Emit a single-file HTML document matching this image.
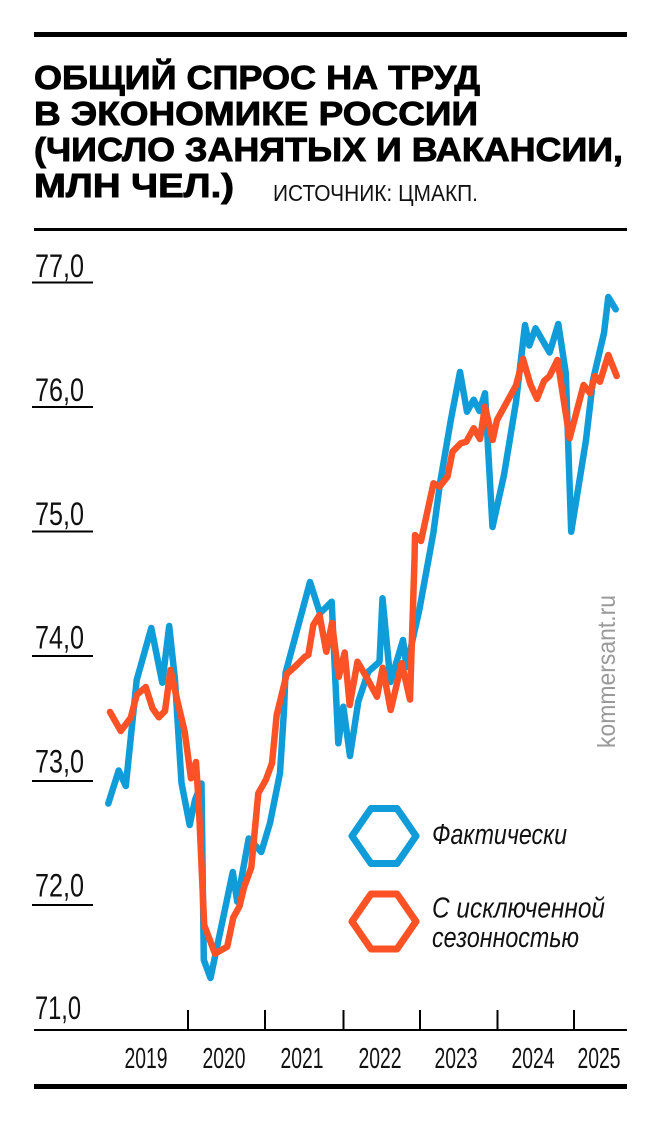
<!DOCTYPE html>
<html>
<head>
<meta charset="utf-8">
<style>
  html, body { margin: 0; padding: 0; background: #ffffff; }
  body { width: 660px; height: 1122px; overflow: hidden; }
  svg { display: block; }
  .title { font-family: "Liberation Sans", "DejaVu Sans", sans-serif; font-weight: bold; font-size: 33px; fill: #000; stroke: #000; stroke-width: 0.9px; }
  .src { font-family: "Liberation Sans Narrow", "Liberation Sans", sans-serif; font-size: 23px; fill: #111; }
  .ylab { font-family: "Liberation Sans Narrow", "Liberation Sans", sans-serif; font-size: 32px; fill: #111; }
  .xlab { font-family: "Liberation Sans Narrow", "Liberation Sans", sans-serif; font-size: 29px; fill: #111; }
  .leg { font-family: "Liberation Sans Narrow", "Liberation Sans", sans-serif; font-style: italic; font-size: 29px; fill: #111; }
  .wm { font-family: "Liberation Sans Narrow", "Liberation Sans", sans-serif; font-size: 25px; fill: #9a9a9a; }
</style>
</head>
<body>
<svg width="660" height="1122" viewBox="0 0 660 1122" xmlns="http://www.w3.org/2000/svg">
  <rect x="0" y="0" width="660" height="1122" fill="#ffffff"/>

  <!-- top rule -->
  <rect x="34" y="32" width="593" height="5" fill="#000"/>

  <!-- title -->
  <text class="title" x="34" y="89" textLength="446" lengthAdjust="spacingAndGlyphs">ОБЩИЙ СПРОС НА ТРУД</text>
  <text class="title" x="34" y="125" textLength="444" lengthAdjust="spacingAndGlyphs">В ЭКОНОМИКЕ РОССИИ</text>
  <text class="title" x="34" y="161" textLength="589" lengthAdjust="spacingAndGlyphs">(ЧИСЛО ЗАНЯТЫХ И ВАКАНСИИ,</text>
  <text class="title" x="34" y="197" textLength="200" lengthAdjust="spacingAndGlyphs">МЛН ЧЕЛ.)</text>
  <text class="src" x="273" y="201" textLength="205" lengthAdjust="spacingAndGlyphs">ИСТОЧНИК: ЦМАКП.</text>

  <!-- rule under title -->
  <rect x="34" y="228" width="593" height="3" fill="#000"/>

  <!-- y axis labels and underlines -->
  <g>
    <text class="ylab" x="35" y="277" textLength="49" lengthAdjust="spacingAndGlyphs">77,0</text>
    <rect x="32" y="281.5" width="61" height="2" fill="#000"/>
    <text class="ylab" x="35" y="401" textLength="49" lengthAdjust="spacingAndGlyphs">76,0</text>
    <rect x="32" y="406" width="61" height="2" fill="#000"/>
    <text class="ylab" x="35" y="525" textLength="49" lengthAdjust="spacingAndGlyphs">75,0</text>
    <rect x="32" y="530.5" width="61" height="2" fill="#000"/>
    <text class="ylab" x="35" y="648.5" textLength="49" lengthAdjust="spacingAndGlyphs">74,0</text>
    <rect x="32" y="655" width="61" height="2" fill="#000"/>
    <text class="ylab" x="35" y="772.5" textLength="49" lengthAdjust="spacingAndGlyphs">73,0</text>
    <rect x="32" y="780" width="61" height="2" fill="#000"/>
    <text class="ylab" x="35" y="896.5" textLength="49" lengthAdjust="spacingAndGlyphs">72,0</text>
    <rect x="32" y="904" width="61" height="2" fill="#000"/>
    <text class="ylab" x="35" y="1019" textLength="46" lengthAdjust="spacingAndGlyphs">71,0</text>
  </g>

  <!-- x axis -->
  <rect x="34" y="1029" width="593" height="2" fill="#000"/>
  <g fill="#000">
    <rect x="187" y="1010" width="2" height="20"/>
    <rect x="264" y="1010" width="2" height="20"/>
    <rect x="342.5" y="1010" width="2" height="20"/>
    <rect x="419" y="1010" width="2" height="20"/>
    <rect x="496.5" y="1010" width="2" height="20"/>
    <rect x="573" y="1010" width="2" height="20"/>
  </g>
  <g text-anchor="middle">
    <text class="xlab" x="146" y="1068" textLength="43" lengthAdjust="spacingAndGlyphs">2019</text>
    <text class="xlab" x="224" y="1068" textLength="43" lengthAdjust="spacingAndGlyphs">2020</text>
    <text class="xlab" x="302" y="1068" textLength="43" lengthAdjust="spacingAndGlyphs">2021</text>
    <text class="xlab" x="380" y="1068" textLength="43" lengthAdjust="spacingAndGlyphs">2022</text>
    <text class="xlab" x="456" y="1068" textLength="43" lengthAdjust="spacingAndGlyphs">2023</text>
    <text class="xlab" x="533" y="1068" textLength="43" lengthAdjust="spacingAndGlyphs">2024</text>
    <text class="xlab" x="599" y="1068" textLength="43" lengthAdjust="spacingAndGlyphs">2025</text>
  </g>

  <!-- bottom rule -->
  <rect x="34" y="1084" width="593" height="5" fill="#000"/>

  <!-- watermark -->
  <text class="wm" transform="translate(615,748) rotate(-90)" x="0" y="0" textLength="153" lengthAdjust="spacingAndGlyphs">kommersant.ru</text>

  <!-- blue series (actual) -->
  <polyline fill="none" stroke="#0f9cd8" stroke-width="6.5" stroke-linejoin="round" stroke-linecap="round"
    points="108.3,803.5 118.7,770.5 125.8,786 136.7,680 151.3,628 162.3,682.7 169.2,626 175,680 181.5,783 189.7,825 195,800 201.5,783.5 203.8,960 210.5,978 232.8,872 237.2,901.7 248.7,838.5 261.3,852 270,823 280,773 284,710 285.5,673 291.7,650 310,582 320,613.3 331.7,601.7 338.3,743.3 343.3,706.7 350,756 358.3,701.5 368.3,671.7 379.5,661.7 382.5,598.3 390.5,682 403,640 406.5,667 419.3,610 433.3,533.3 440,483.3 451,419 460,372 467,411.7 473.7,399.7 479.5,411 485,393.3 492.5,527 504,475 516,402 525,325 529.3,345.5 535.5,328.3 549.6,352.5 558.3,324 565.8,373.3 571.2,531.7 586,440 593,380 604,333 608.3,297 615.7,309.3"/>

  <!-- red series (seasonally adjusted) -->
  <polyline fill="none" stroke="#fd5226" stroke-width="6.5" stroke-linejoin="round" stroke-linecap="round"
    points="110,712 120.8,731 130.8,717.5 136.7,695 145.7,687 152.5,708.3 158.8,717.3 165,711 170.5,670 177.2,700 184.7,731.7 191,778.3 196,762 198.8,805 204.2,925 215,953.7 227.2,946.7 233.3,917.5 239.5,906.3 244,887.5 251.3,867.5 258.3,793.3 265.8,780 272,763.3 276.7,715 286.7,674 295,666.7 305,656.7 308.3,655 313.3,625 319.5,615 326.3,651.7 332,623 338.8,676.7 344.7,652.5 349.7,705 357.5,661.7 366.7,677.5 377,696.7 382.7,667.8 390.7,710 401.7,663.3 410,699.5 414.5,560 415,535 421,541 433.5,483.3 439.5,486.7 447.5,476.7 452.5,451.7 460.8,443.3 466.3,441.7 473.7,428.3 480,439 485,406.7 492.7,440 497,420 516,385.5 523,358.8 530.3,384 537,398.8 544,381 549.6,376 557.5,360 569.6,438.3 583.6,385 590,393.3 595,376 600,381.7 608.3,355 616.7,376"/>

  <!-- legend -->
  <polygon points="352,836 371,808.5 397,808.5 416,836 397,863.5 371,863.5" fill="none" stroke="#0f9cd8" stroke-width="7" stroke-linejoin="round"/>
  <text class="leg" x="432" y="844" textLength="135" lengthAdjust="spacingAndGlyphs">Фактически</text>

  <polygon points="352,921.5 371,894 397,894 416,921.5 397,949 371,949" fill="none" stroke="#fd5226" stroke-width="7" stroke-linejoin="round"/>
  <text class="leg" x="432" y="917.5" textLength="173" lengthAdjust="spacingAndGlyphs">С исключенной</text>
  <text class="leg" x="432" y="947" textLength="147" lengthAdjust="spacingAndGlyphs">сезонностью</text>
</svg>
</body>
</html>
